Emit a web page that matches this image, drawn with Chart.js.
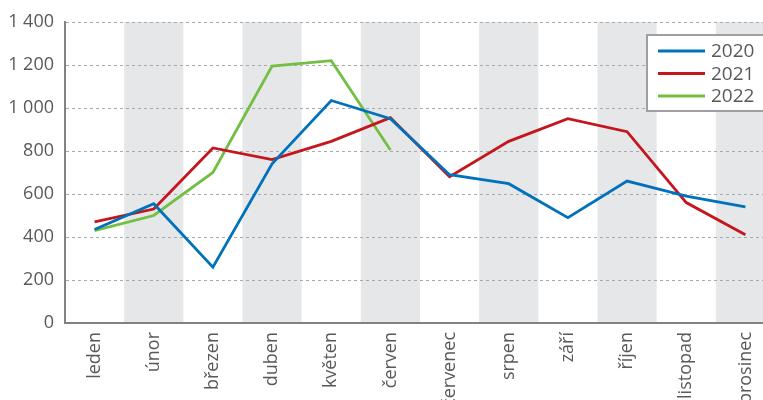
<!DOCTYPE html>
<html>
<head>
<meta charset="utf-8">
<script src="https://cdn.jsdelivr.net/npm/chart.js@4"></script>
<style>
  html, body { margin: 0; padding: 0; background: #fff; overflow: hidden; }
  #wrap { width: 776px; height: 430px; }
</style>
</head>
<body>
<div id="wrap"><canvas id="chart" width="776" height="430"></canvas></div>
<script>
const months = ['leden', 'únor', 'březen', 'duben', 'květen', 'červen', 'červenec', 'srpen', 'září', 'říjen', 'listopad', 'prosinec'];
const years = ['2020', '2021', '2022'];
const data2020 = [435, 555, 260, 740, 1035, 950, 690, 648, 490, 660, 590, 540];
const data2021 = [470, 530, 814, 760, 845, 955, 680, 845, 950, 890, 560, 410];
const data2022 = [430, 500, 700, 1195, 1220, 805];
const yTicks = [0, 200, 400, 600, 800, 1000, 1200, 1400];
const colors = ['#0072bc', '#c4161c', '#72bf44'];

const fontFamily = '"Open Sans", "Noto Sans", sans-serif';
const textColor = '#58595b';

// grey bands behind every second month
const bandsPlugin = {
  id: 'bands',
  beforeDraw(chart) {
    const { ctx, chartArea, scales } = chart;
    const x = scales.x;
    const w = x.getPixelForValue(1) - x.getPixelForValue(0);
    ctx.save();
    ctx.fillStyle = '#e6e7e8';
    for (let i = 1; i < months.length; i += 2) {
      const c = x.getPixelForValue(i);
      ctx.fillRect(c - w / 2, chartArea.top, w, chartArea.bottom - chartArea.top);
    }
    ctx.restore();
  }
};

// boxed legend in the top right corner
const legendPlugin = {
  id: 'boxLegend',
  afterDraw(chart) {
    const { ctx } = chart;
    const left = 647, top = 35, width = 118, height = 76;
    ctx.save();
    ctx.fillStyle = '#fff';
    ctx.fillRect(left, top, width, height);
    ctx.strokeStyle = '#9d9fa2';
    ctx.lineWidth = 2;
    ctx.strokeRect(left, top, width, height);
    ctx.font = '19px ' + fontFamily;
    ctx.textBaseline = 'middle';
    chart.data.datasets.forEach((ds, i) => {
      const y = top + 16 + i * 22.5;
      ctx.strokeStyle = ds.borderColor;
      ctx.lineWidth = 3;
      ctx.beginPath();
      ctx.moveTo(658, y);
      ctx.lineTo(705, y);
      ctx.stroke();
      ctx.fillStyle = textColor;
      ctx.fillText(ds.label, 711, y + 1);
    });
    ctx.restore();
  }
};

const datasets = [data2020, data2021, data2022].map((d, i) => ({
  label: years[i],
  data: d,
  borderColor: colors[i],
  backgroundColor: colors[i],
  borderWidth: 2.8,
  pointRadius: 0,
  tension: 0,
  fill: false
}));

new Chart(document.getElementById('chart'), {
  type: 'line',
  data: { labels: months, datasets: datasets },
  options: {
    responsive: false,
    animation: false,
    layout: { padding: { top: 22, right: 0, left: 0, bottom: 0 } },
    plugins: { legend: { display: false }, tooltip: { enabled: false } },
    scales: {
      x: {
        offset: true,
        grid: { display: false, drawTicks: false },
        border: { display: true, color: '#808285', width: 2 },
        ticks: {
          color: textColor,
          font: { family: fontFamily, size: 18 },
          maxRotation: 90,
          minRotation: 90,
          padding: 9,
          autoSkip: false
        },
        afterFit(s) { s.height = 107; }
      },
      y: {
        min: 0,
        max: 1400,
        afterBuildTicks(s) { s.ticks = yTicks.map(v => ({ value: v })); },
        grid: {
          color: '#a7a9ac',
          lineWidth: 1,
          drawTicks: false
        },
        border: { display: true, color: '#808285', width: 2, dash: [3, 3] },
        ticks: {
          color: textColor,
          font: { family: fontFamily, size: 18 },
          padding: 11,
          callback: v => String(v).replace(/\B(?=(\d{3})+(?!\d))/g, ' ')
        },
        afterFit(s) { s.width = 65; }
      }
    }
  },
  plugins: [bandsPlugin, legendPlugin]
});
</script>
</body>
</html>
